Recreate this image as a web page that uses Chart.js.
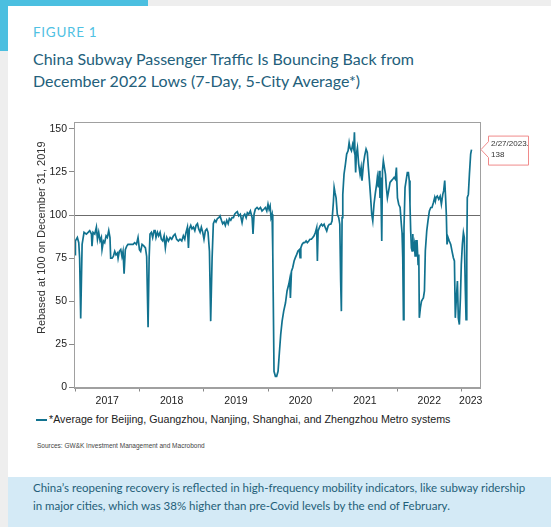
<!DOCTYPE html>
<html>
<head>
<meta charset="utf-8">
<script src="https://cdn.jsdelivr.net/npm/chart.js@4.4.1/dist/chart.umd.min.js"></script>
<style>
  body { margin: 0; width: 551px; height: 527px; background: #eeeeee; position: relative; overflow: hidden; font-family: Lato, "Open Sans", sans-serif; }
  .card { position: absolute; left: 8px; top: 6px; right: 0; bottom: 0; background: #fff; }
  .accent-top { position: absolute; left: 0; top: 0; width: 148px; height: 6px; background: #4bbfe0; }
  .accent-left { position: absolute; left: 0; top: 0; width: 8px; height: 51px; background: #4bbfe0; }
  .fig { position: absolute; left: 33px; top: 24px; font-size: 13.5px; color: #4fc1e3; letter-spacing: 0.7px; }
  .title { position: absolute; left: 33px; top: 48px; font-size: 16px; line-height: 22px; color: #23607b; }
  #wrap { position: absolute; left: 20px; top: 110px; width: 530px; height: 300px; }
  .legend { position: absolute; left: 36px; top: 413px; font-family: "Liberation Sans", Arial, sans-serif; font-size: 10.7px; color: #222; white-space: nowrap; }
  .legend span.swatch { display: inline-block; width: 11px; height: 2px; vertical-align: middle; margin-right: 2px; }
  .sources { position: absolute; left: 37px; top: 442px; font-family: "Liberation Sans", Arial, sans-serif; font-size: 6.5px; color: #444; }
  .note { position: absolute; left: 8px; top: 477px; right: 0; bottom: 0; background: #d4eaf6; }
  .note p { margin: 0; position: absolute; left: 25px; top: 2px; font-size: 11.5px; line-height: 17.6px; color: #1f5f79; white-space: nowrap; }
</style>
</head>
<body>
<div class="card"></div>
<div class="accent-top"></div>
<div class="accent-left"></div>
<div class="fig">FIGURE 1</div>
<div class="title">China Subway Passenger Traffic Is Bouncing Back from<br>December 2022 Lows (7-Day, 5-City Average*)</div>
<div id="wrap"><canvas id="subwayChart"></canvas></div>
<div class="legend"><span class="swatch" id="swatch"></span>*Average for Beijing, Guangzhou, Nanjing, Shanghai, and Zhengzhou Metro systems</div>
<div class="sources">Sources: GW&amp;K Investment Management and Macrobond</div>
<div class="note"><p>China’s reopening recovery is reflected in high-frequency mobility indicators, like subway ridership<br>in major cities, which was 38% higher than pre-Covid levels by the end of February.</p></div>

<script>
// series (7-day average, rebased to 100)
const dates = [
  "2017-01-01","2017-01-03","2017-01-14","2017-01-22","2017-01-27","2017-02-02","2017-02-10","2017-02-21","2017-03-06","2017-03-16",
  "2017-03-25","2017-04-04","2017-04-07","2017-04-13","2017-04-23","2017-05-02","2017-05-08","2017-05-15","2017-05-23","2017-05-30",
  "2017-06-03","2017-06-11","2017-06-18","2017-06-26","2017-07-03","2017-07-11","2017-07-18","2017-07-22","2017-07-30","2017-08-06",
  "2017-08-14","2017-08-21","2017-08-29","2017-09-02","2017-09-09","2017-09-17","2017-09-24","2017-09-30","2017-10-06","2017-10-13",
  "2017-10-21","2017-10-28","2017-11-06","2017-11-16","2017-11-26","2017-12-05","2017-12-15","2017-12-24",
  "2018-01-01","2018-01-08","2018-01-16","2018-01-27","2018-02-04","2018-02-11","2018-02-19","2018-02-25","2018-03-02","2018-03-10",
  "2018-03-17","2018-03-25","2018-03-31","2018-04-05","2018-04-13","2018-04-20","2018-04-28","2018-05-05","2018-05-13","2018-05-21",
  "2018-05-28","2018-06-05","2018-06-14","2018-06-24","2018-07-03","2018-07-13","2018-07-22","2018-07-31","2018-08-10","2018-08-19",
  "2018-08-29","2018-09-07","2018-09-15","2018-09-22","2018-09-30","2018-10-06","2018-10-11","2018-10-19","2018-10-26","2018-11-03",
  "2018-11-11","2018-11-18","2018-11-26","2018-12-03","2018-12-11","2018-12-18","2018-12-26",
  "2019-01-02","2019-01-10","2019-01-18","2019-01-25","2019-02-02","2019-02-09","2019-02-17","2019-02-24","2019-03-04","2019-03-11",
  "2019-03-19","2019-03-27","2019-04-03","2019-04-11","2019-04-18","2019-04-26","2019-05-03","2019-05-11","2019-05-19","2019-05-26",
  "2019-06-03","2019-06-10","2019-06-18","2019-06-25","2019-07-03","2019-07-10","2019-07-18","2019-07-27","2019-08-06","2019-08-13",
  "2019-08-21","2019-08-29","2019-09-05","2019-09-13","2019-09-22","2019-10-02","2019-10-07","2019-10-13","2019-10-20","2019-10-30",
  "2019-11-08","2019-11-18","2019-11-27","2019-12-07","2019-12-16","2019-12-24","2019-12-31",
  "2020-01-06","2020-01-12","2020-01-17","2020-01-23","2020-01-27","2020-01-31","2020-02-03","2020-02-11","2020-02-18","2020-02-26",
  "2020-03-05","2020-03-12","2020-03-20","2020-03-29","2020-04-08","2020-04-17","2020-04-27","2020-05-02","2020-05-06","2020-05-12",
  "2020-05-19","2020-05-27","2020-06-03","2020-06-11","2020-06-18","2020-06-26","2020-06-30","2020-07-04","2020-07-11","2020-07-19",
  "2020-07-26","2020-08-03","2020-08-10","2020-08-18","2020-08-25","2020-09-02","2020-09-10","2020-09-17","2020-09-25","2020-10-02",
  "2020-10-06","2020-10-10","2020-10-21","2020-10-29","2020-11-05","2020-11-13","2020-11-20","2020-11-28","2020-12-06","2020-12-13",
  "2020-12-21","2020-12-28",
  "2021-01-05","2021-01-09","2021-01-14","2021-01-20","2021-01-27","2021-02-04","2021-02-10","2021-02-15","2021-02-19","2021-02-23",
  "2021-02-27","2021-03-06","2021-03-14","2021-03-21","2021-03-29","2021-04-04","2021-04-09","2021-04-17","2021-04-24","2021-04-30",
  "2021-05-04","2021-05-08","2021-05-11","2021-05-15","2021-05-21","2021-05-28","2021-06-05","2021-06-11","2021-06-16","2021-06-24",
  "2021-07-01","2021-07-09","2021-07-16","2021-07-22","2021-07-28","2021-08-04","2021-08-10","2021-08-16","2021-08-23","2021-08-31",
  "2021-09-07","2021-09-11","2021-09-17","2021-09-22","2021-09-26","2021-09-30","2021-10-06","2021-10-10","2021-10-15","2021-10-21",
  "2021-10-27","2021-11-01","2021-11-07","2021-11-14","2021-11-22","2021-11-30","2021-12-07","2021-12-15","2021-12-22","2021-12-28",
  "2022-01-03","2022-01-10","2022-01-18","2022-01-25","2022-01-29","2022-02-02","2022-02-06","2022-02-09","2022-02-15","2022-02-21",
  "2022-02-28","2022-03-06","2022-03-11","2022-03-15","2022-03-19","2022-03-23","2022-03-27","2022-03-31","2022-04-03","2022-04-09",
  "2022-04-13","2022-04-18","2022-04-24","2022-04-30","2022-05-04","2022-05-07","2022-05-13","2022-05-19","2022-05-24","2022-05-30",
  "2022-06-05","2022-06-10","2022-06-18","2022-06-25","2022-07-03","2022-07-11","2022-07-18","2022-07-26","2022-08-02","2022-08-06",
  "2022-08-10","2022-08-17","2022-08-25","2022-09-02","2022-09-09","2022-09-17","2022-09-22","2022-09-28","2022-10-03","2022-10-07",
  "2022-10-11","2022-10-17","2022-10-24","2022-11-01","2022-11-08","2022-11-16","2022-11-22","2022-11-27","2022-12-03","2022-12-09",
  "2022-12-14","2022-12-20","2022-12-26","2022-12-31",
  "2023-01-06","2023-01-12","2023-01-17","2023-01-23","2023-01-27","2023-01-31","2023-02-03","2023-02-09","2023-02-15","2023-02-22",
  "2023-02-27"
];
const values = [
  77,85,87,84,75,40,83,90,89,90,
  91,89,82,90,89,93,86,90,85,87,
  80,85,84,88,87,91,87,75,75,76,
  79,77,78,75,79,80,76,79,66,80,
  82,83,83,83,83,84,83,87,
  80,79,83,82,81,76,35,75,89,90,
  87,91,91,87,90,88,90,86,85,88,
  81,87,85,87,86,88,89,86,85,86,
  85,88,86,90,93,81,92,94,92,93,
  91,94,95,92,90,93,90,
  86,91,92,90,79,38.5,75,95,97,96,
  98,98.5,99.5,97,95,96,94,97,95,98,
  97,98.5,98.5,100.5,101.5,102,99.5,100.5,95.6,99.5,
  100.5,98.5,101.4,100.5,102.4,98.5,89,100.5,103.4,104.4,
  103.4,104.4,102.4,103.4,104.4,102.4,106.3,
  103.4,105.3,98.5,100.5,79,40,9.4,6.5,6.5,9.4,
  21,30.7,38.5,44.3,49,56,60,62.7,52,67.5,
  69.5,73.4,75.3,77.2,79.2,80,75.3,81,83,84,
  84,85,84,85,86,86,87,88,90,92.7,
  73.4,90.8,93.7,94.7,93.7,94.7,92.7,90.8,93.7,94.7,
  94.7,96.6,
  108,116,113,110,100.5,98.5,94.7,61.7,44.3,98.5,
  112,123.7,129.6,135.4,137.3,142,139,137.3,141,138.3,
  148,133.4,124.7,135.4,139,129.6,123.7,127.6,120,129.6,
  134.4,138.3,136.3,127.6,120,110,100.5,96.6,106.3,113,
  118,121.8,116,125.7,110,121.8,85,125.7,131.5,127.6,
  123.7,116,110,114,119,120,120.8,121.8,120.8,127.6,
  110,106.3,104.4,94.7,89.8,75.3,39.4,92.7,116,120,
  124.7,124.7,120,106.3,90.8,81,79.2,89,79.2,83,
  76.3,85,85,71.4,77.2,40.4,46.2,50,51,52,
  56,79.2,90.8,96.6,102.4,104.4,104.4,107.3,110.2,108.2,
  110.2,111,109.2,111,106.3,112,114,120,110,100.5,
  83,87,85,83,79.2,75.3,73.4,40.4,52,61.7,
  40.4,36.5,52,71.4,
  83,89.8,86.9,56,39.4,75.3,110.2,112,123.7,135.4,
  138
];
const yearLabels = ["2017", "2018", "2019", "2020", "2021", "2022", "2023"];
const yTicks = [0, 25, 50, 75, 100, 125, 150];
const baseline = 100;
const seriesLabel = "*Average for Beijing, Guangzhou, Nanjing, Shanghai, and Zhengzhou Metro systems";
const yTitle = "Rebased at 100 on December 31, 2019";
const xStart = "2016-12-26";
const xEnd = "2023-04-16";

const lineColor = "#11728f";
const toMs = (s) => Date.parse(s);
document.getElementById("swatch").style.background = lineColor;

// year boundaries get a tick mark, labels sit in the middle of each year
const boundaries = yearLabels.map((y) => toMs(y + "-01-01"));
const labelAt = new Map();
yearLabels.forEach((y, i) => {
  const next = i < yearLabels.length - 1 ? boundaries[i + 1] : toMs(xEnd);
  labelAt.set((boundaries[i] + next) / 2, y);
});

const fmtDate = (s) => {
  const [yy, mm, dd] = s.split("-").map(Number);
  return mm + "/" + dd + "/" + yy + ".";
};

const framePlugin = {
  id: "frame",
  beforeDatasetsDraw(chart) {
    const { ctx, chartArea: a, scales } = chart;
    ctx.save();
    // baseline at 100
    const yb = Math.round(scales.y.getPixelForValue(baseline)) + 0.5;
    ctx.strokeStyle = "#6b6b6b";
    ctx.lineWidth = 1;
    ctx.beginPath();
    ctx.moveTo(a.left, yb);
    ctx.lineTo(a.right, yb);
    ctx.stroke();
    ctx.restore();
  },
  afterDraw(chart) {
    const { ctx, chartArea: a } = chart;
    ctx.save();
    ctx.strokeStyle = "#a0a0a0";
    ctx.lineWidth = 1;
    ctx.strokeRect(Math.round(a.left) + 0.5, Math.round(a.top) + 0.5, Math.round(a.right - a.left), Math.round(a.bottom - a.top));
    // rotated y title
    ctx.fillStyle = "#333";
    ctx.font = "11px 'Liberation Sans', Arial, sans-serif";
    ctx.textAlign = "center";
    ctx.textBaseline = "middle";
    ctx.translate(22, (a.top + a.bottom) / 2 - 17);
    ctx.rotate(-Math.PI / 2);
    ctx.fillText(yTitle, 0, 0);
    ctx.restore();

    // callout for the last value
    const meta = chart.getDatasetMeta(0);
    const last = meta.data[meta.data.length - 1];
    const tipX = a.right + 1;
    const tipY = last.y;
    const bx = tipX + 7, bw = 40, bt = tipY - 14, bh = 29;
    ctx.save();
    ctx.fillStyle = "#fff";
    ctx.strokeStyle = "#f08a8a";
    ctx.lineWidth = 1;
    ctx.beginPath();
    ctx.moveTo(bx + 0.5, bt + 0.5);
    ctx.lineTo(bx + bw + 0.5, bt + 0.5);
    ctx.lineTo(bx + bw + 0.5, bt + bh + 0.5);
    ctx.lineTo(bx + 0.5, bt + bh + 0.5);
    ctx.lineTo(bx + 0.5, tipY + 8);
    ctx.lineTo(tipX, tipY);
    ctx.lineTo(bx + 0.5, tipY - 8);
    ctx.closePath();
    ctx.fill();
    ctx.stroke();
    ctx.fillStyle = "#333";
    ctx.font = "8px 'Liberation Sans', Arial, sans-serif";
    ctx.textAlign = "left";
    ctx.textBaseline = "middle";
    ctx.fillText(fmtDate(dates[dates.length - 1]), bx + 3, bt + 8);
    ctx.fillText(String(values[values.length - 1]), bx + 3, bt + 19);
    ctx.restore();
  }
};

const tickFont = { family: "'Liberation Sans', Arial, sans-serif", size: 10.5 };

new Chart(document.getElementById("subwayChart"), {
  type: "line",
  data: {
    datasets: [{
      label: seriesLabel,
      data: dates.map((d, i) => ({ x: toMs(d), y: values[i] })),
      borderColor: lineColor,
      borderWidth: 1.7,
      pointRadius: 0,
      tension: 0,
      fill: false
    }]
  },
  options: {
    responsive: true,
    maintainAspectRatio: false,
    animation: false,
    layout: { padding: { top: 12, right: 70, left: 0, bottom: 0 } },
    plugins: { legend: { display: false }, tooltip: { enabled: false } },
    scales: {
      x: {
        type: "linear",
        min: toMs(xStart),
        max: toMs(xEnd),
        afterBuildTicks: (scale) => {
          const t = [];
          boundaries.forEach((b) => t.push({ value: b }));
          labelAt.forEach((lab, v) => t.push({ value: v }));
          scale.ticks = t;
        },
        afterFit: (scale) => { scale.height = 22.5; },
        ticks: {
          autoSkip: false,
          maxRotation: 0,
          padding: 3,
          color: "#222",
          font: tickFont,
          callback: (v) => labelAt.get(v) || ""
        },
        grid: {
          drawOnChartArea: false,
          tickLength: 4,
          tickColor: (c) => (c.tick && boundaries.includes(c.tick.value) ? "#888" : "rgba(0,0,0,0)")
        },
        border: { color: "#a0a0a0" }
      },
      y: {
        min: 0,
        max: 154,
        afterBuildTicks: (scale) => { scale.ticks = yTicks.map((v) => ({ value: v })); },
        afterFit: (scale) => { scale.width = 54; },
        ticks: { padding: 2, color: "#222", font: tickFont },
        grid: { drawOnChartArea: false, tickLength: 5, tickColor: "#888" },
        border: { color: "#a0a0a0" }
      }
    }
  },
  plugins: [framePlugin]
});
</script>
</body>
</html>
